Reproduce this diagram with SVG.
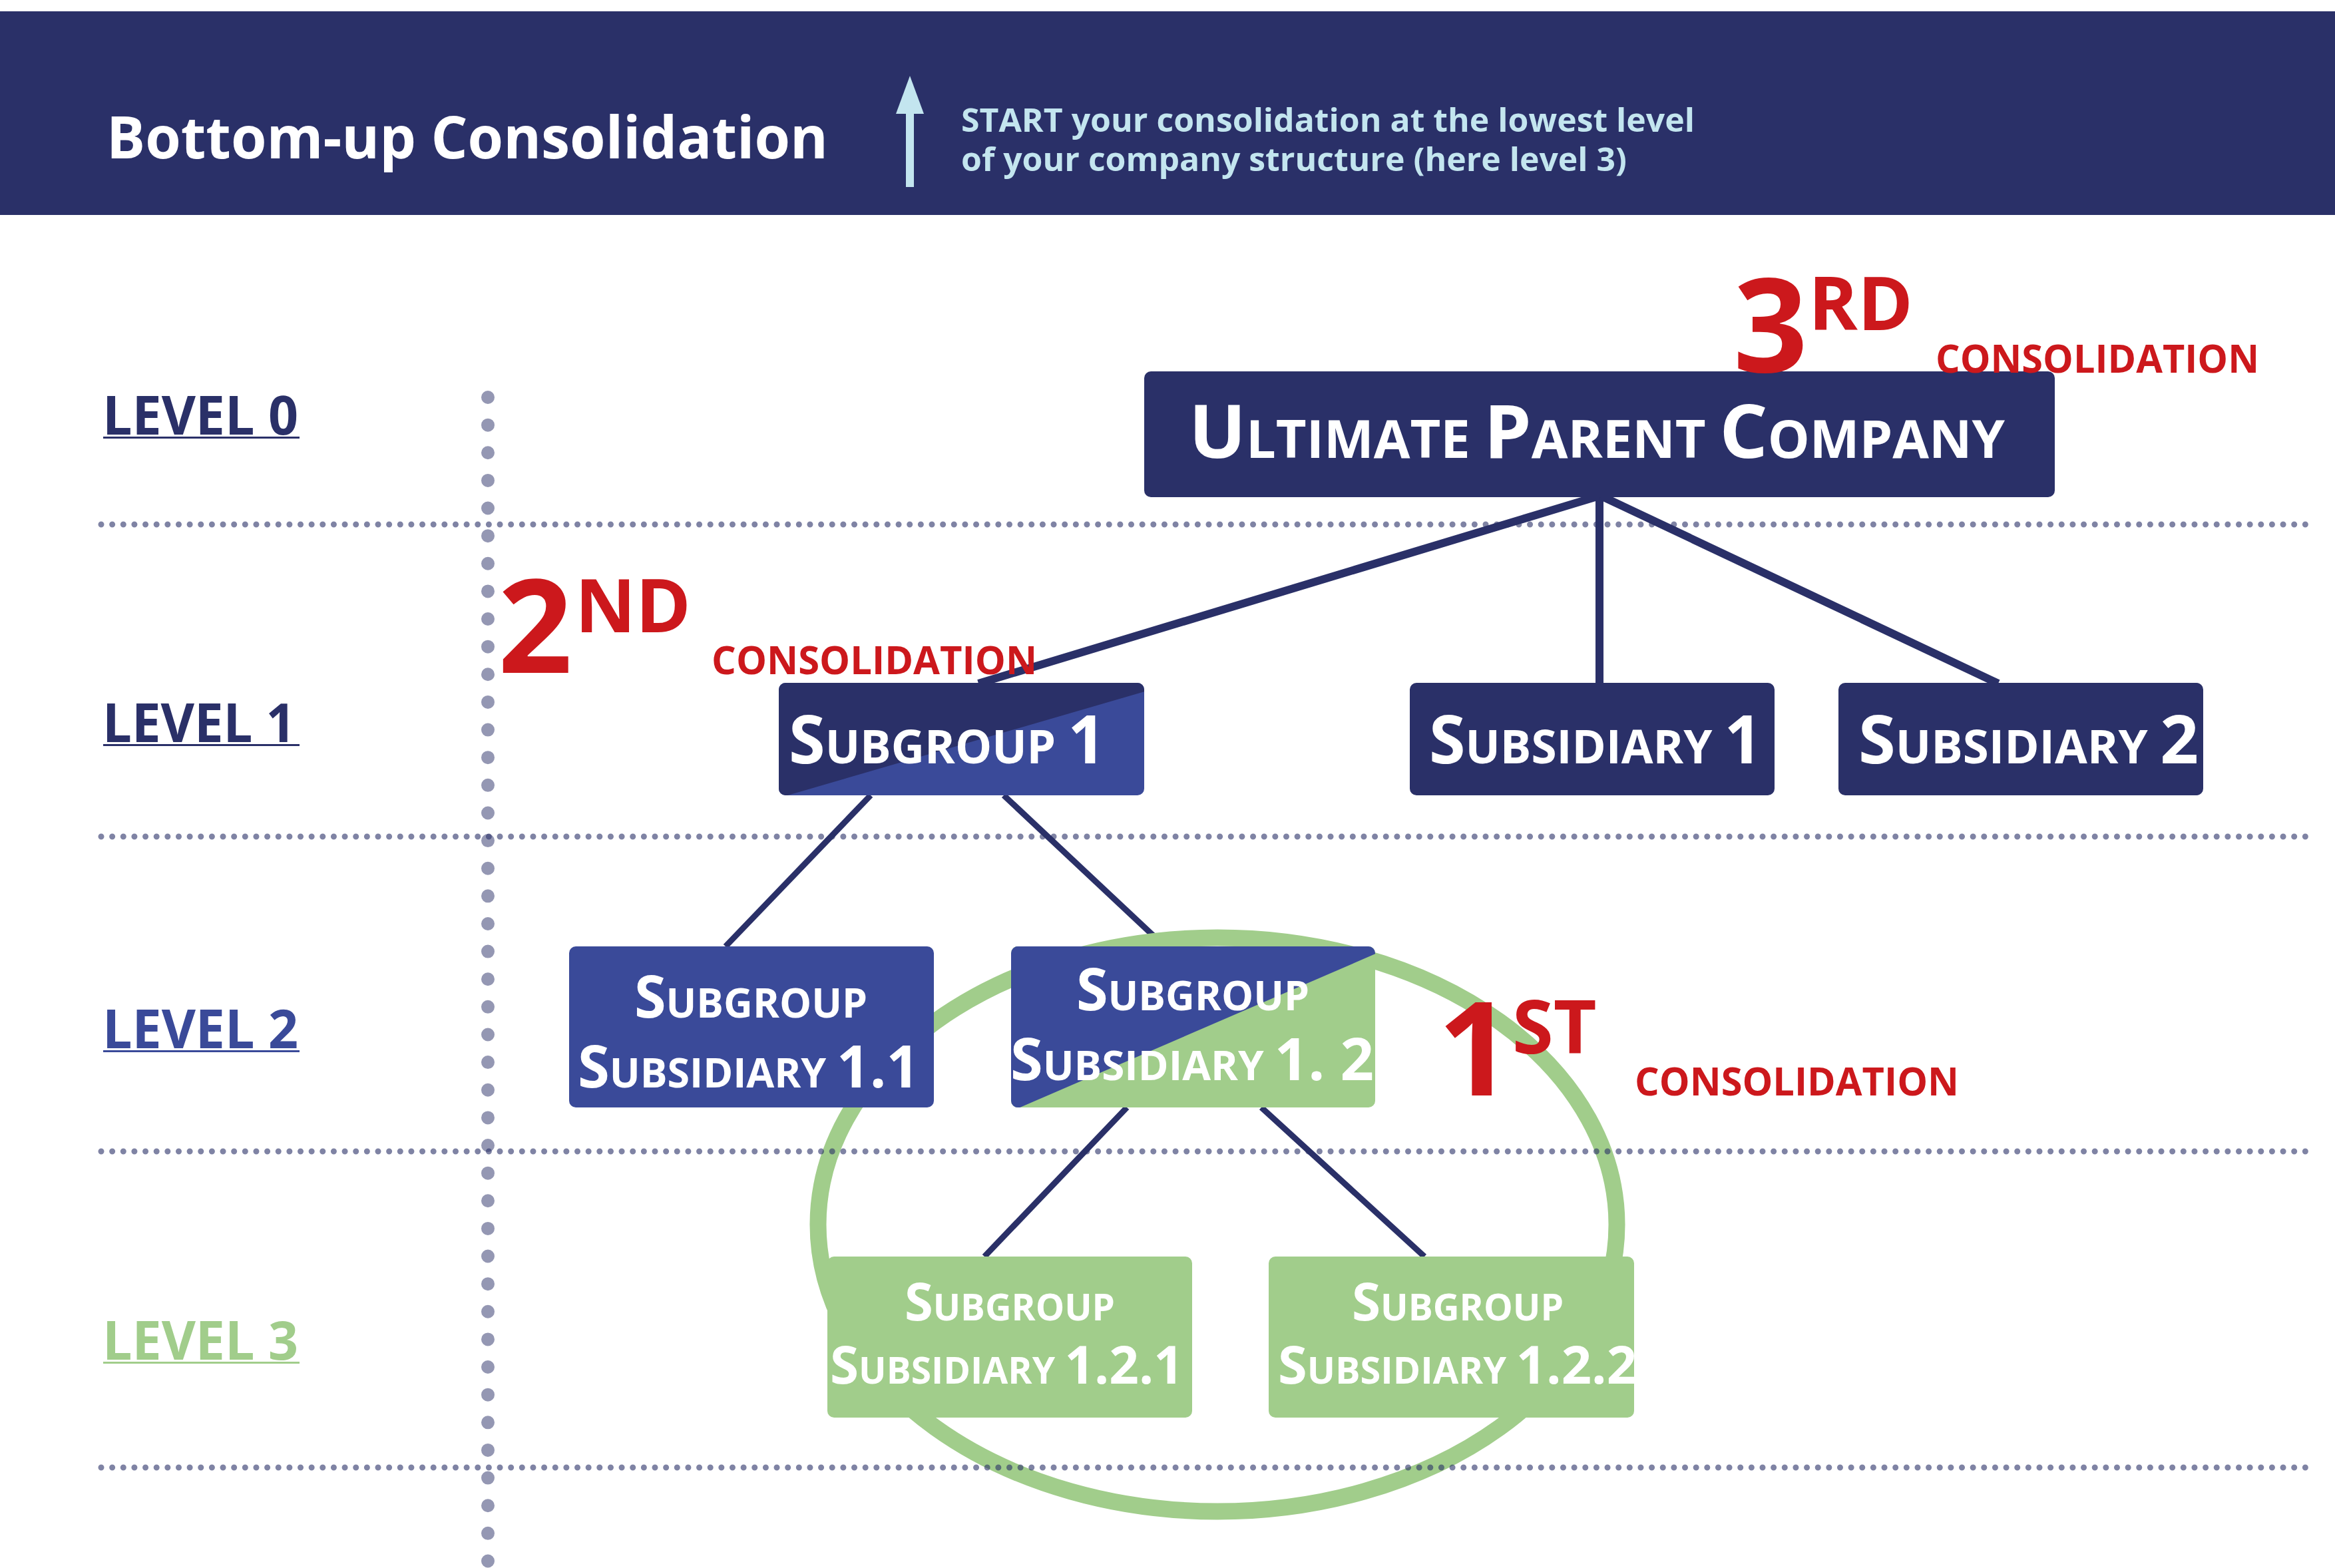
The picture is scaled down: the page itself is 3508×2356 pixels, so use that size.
<svg xmlns="http://www.w3.org/2000/svg" width="3508" height="2356" viewBox="0 0 3508 2356">
<style>
text{font-family:"Open Sans","Noto Sans","Liberation Sans",sans-serif}
.node{fill:#fff;font-weight:700}
.lvl{font-weight:700;font-size:80px}
.red{fill:#cc181c;font-weight:700}
.cons{fill:#cc181c;font-weight:700;font-size:59px}
.conn1{stroke:#2a3068;stroke-width:12;fill:none}
.conn2{stroke:#2a3068;stroke-width:9;fill:none}
.hdot{stroke:#2a3068;stroke-opacity:0.6;stroke-width:9;stroke-linecap:round;stroke-dasharray:0 16.64;fill:none}
.vdot{stroke:#2a3068;stroke-opacity:0.5;stroke-width:20;stroke-linecap:round;stroke-dasharray:0 41.63;fill:none}
</style>
<defs>
<clipPath id="cpSg1"><rect x="1170" y="1026" width="549" height="169" rx="10"/></clipPath>
<clipPath id="cpSg12"><rect x="1519" y="1422" width="547" height="242" rx="10"/></clipPath>
</defs>
<rect width="3508" height="2356" fill="#fff"/>
<g id="header">
<rect x="0" y="17" width="3508" height="306" fill="#2a3068"/>
<text x="160" y="238" font-size="88" font-weight="700" fill="#fff" textLength="1084" lengthAdjust="spacingAndGlyphs">Bottom-up Consolidation</text>
<polygon points="1367,114 1388,171 1346,171" fill="#c3e5ef"/>
<rect x="1361" y="170" width="12" height="111" fill="#c3e5ef"/>
<text x="1444" y="198" font-size="48" font-weight="700" fill="#c3e5ef" textLength="1102" lengthAdjust="spacingAndGlyphs">START your consolidation at the lowest level</text>
<text x="1444" y="257" font-size="48" font-weight="700" fill="#c3e5ef" textLength="1000" lengthAdjust="spacingAndGlyphs">of your company structure (here level 3)</text>
</g>
<g id="levels">
<text class="lvl" x="154" y="653" fill="#2a3068" textLength="294" lengthAdjust="spacingAndGlyphs">LEVEL 0</text>
<rect x="155" y="656" width="295" height="3" fill="#2a3068"/>
<text class="lvl" x="154" y="1115" fill="#2a3068" textLength="290" lengthAdjust="spacingAndGlyphs">LEVEL 1</text>
<rect x="155" y="1118" width="295" height="3" fill="#2a3068"/>
<text class="lvl" x="154" y="1575" fill="#3a4a99" textLength="294" lengthAdjust="spacingAndGlyphs">LEVEL 2</text>
<rect x="155" y="1578" width="295" height="3" fill="#3a4a99"/>
<text class="lvl" x="154" y="2043" fill="#a1cd8b" textLength="294" lengthAdjust="spacingAndGlyphs">LEVEL 3</text>
<rect x="155" y="2046" width="295" height="3" fill="#a1cd8b"/>
</g>
<g id="connectors">
<path class="conn1" d="M2403 745 L1470 1027"/>
<path class="conn1" d="M2403 745 V1027"/>
<path class="conn1" d="M2405 745 L3002 1027"/>
<path class="conn2" d="M1308 1195 L1090 1422"/>
<path class="conn2" d="M1508 1195 L1750 1422"/>
<path class="conn2" d="M1693 1664 L1479 1888"/>
<path class="conn2" d="M1895 1664 L2140 1888"/>
</g>
<g id="consolidation-circle">
<ellipse cx="1829" cy="1840" rx="600" ry="431" fill="none" stroke="#a1cd8b" stroke-width="25"/>
</g>
<g id="node-parent">
<rect x="1719" y="558" width="1368" height="189" rx="10" fill="#2a3068"/>
<text class="node" x="1786" y="688" font-size="112" textLength="1226" lengthAdjust="spacingAndGlyphs"><tspan>U</tspan><tspan font-size="78">LTIMATE </tspan><tspan>P</tspan><tspan font-size="78">ARENT </tspan><tspan>C</tspan><tspan font-size="78">OMPANY</tspan></text>
</g>
<g id="node-subgroup1">
<g clip-path="url(#cpSg1)">
<rect x="1170" y="1026" width="549" height="169" fill="#3a4a99"/>
<polygon points="1160,1016 1730,1016 1730,1036 1180,1196 1160,1205" fill="#2a3068"/>
</g>
<text class="node" x="1185" y="1147" font-size="100" textLength="476" lengthAdjust="spacingAndGlyphs"><tspan>S</tspan><tspan font-size="70">UBGROUP </tspan><tspan>1</tspan></text>
</g>
<g id="node-subsidiary1">
<rect x="2118" y="1026" width="548" height="169" rx="10" fill="#2a3068"/>
<text class="node" x="2147" y="1147" font-size="100" textLength="500" lengthAdjust="spacingAndGlyphs"><tspan>S</tspan><tspan font-size="70">UBSIDIARY </tspan><tspan>1</tspan></text>
</g>
<g id="node-subsidiary2">
<rect x="2762" y="1026" width="548" height="169" rx="10" fill="#2a3068"/>
<text class="node" x="2792" y="1147" font-size="100" textLength="511" lengthAdjust="spacingAndGlyphs"><tspan>S</tspan><tspan font-size="70">UBSIDIARY </tspan><tspan>2</tspan></text>
</g>
<g id="node-sub11">
<rect x="855" y="1422" width="548" height="242" rx="10" fill="#3a4a99"/>
<text class="node" x="953" y="1529" font-size="87" textLength="350" lengthAdjust="spacingAndGlyphs"><tspan>S</tspan><tspan font-size="61">UBGROUP</tspan></text>
<text class="node" x="868" y="1634" font-size="87" textLength="513" lengthAdjust="spacingAndGlyphs"><tspan>S</tspan><tspan font-size="61">UBSIDIARY </tspan><tspan>1.1</tspan></text>
</g>
<g id="node-sub12">
<g clip-path="url(#cpSg12)">
<rect x="1519" y="1422" width="547" height="242" fill="#a1cd8b"/>
<polygon points="1509,1412 2076,1412 2076,1429 1530,1665 1509,1674" fill="#3a4a99"/>
</g>
<text class="node" x="1617" y="1518" font-size="87" textLength="350" lengthAdjust="spacingAndGlyphs"><tspan>S</tspan><tspan font-size="61">UBGROUP</tspan></text>
<text class="node" x="1518" y="1623" font-size="87" textLength="546" lengthAdjust="spacingAndGlyphs"><tspan>S</tspan><tspan font-size="61">UBSIDIARY </tspan><tspan>1. 2</tspan></text>
</g>
<g id="node-sub121">
<rect x="1243" y="1888" width="548" height="242" rx="10" fill="#a1cd8b"/>
<text class="node" x="1359" y="1984" font-size="78" textLength="316" lengthAdjust="spacingAndGlyphs"><tspan>S</tspan><tspan font-size="55">UBGROUP</tspan></text>
<text class="node" x="1247" y="2079" font-size="78" textLength="531" lengthAdjust="spacingAndGlyphs"><tspan>S</tspan><tspan font-size="55">UBSIDIARY </tspan><tspan>1.2.1</tspan></text>
</g>
<g id="node-sub122">
<rect x="1906" y="1888" width="549" height="242" rx="10" fill="#a1cd8b"/>
<text class="node" x="2031" y="1984" font-size="78" textLength="318" lengthAdjust="spacingAndGlyphs"><tspan>S</tspan><tspan font-size="55">UBGROUP</tspan></text>
<text class="node" x="1920" y="2079" font-size="78" textLength="539" lengthAdjust="spacingAndGlyphs"><tspan>S</tspan><tspan font-size="55">UBSIDIARY </tspan><tspan>1.2.2</tspan></text>
</g>
<g id="label-3rd">
<text class="red" x="2604" y="559" font-size="196">3</text>
<text class="red" x="2717" y="496" font-size="112">RD</text>
<text class="cons" x="2908" y="560" textLength="486" lengthAdjust="spacingAndGlyphs">CONSOLIDATION</text>
</g>
<g id="label-2nd">
<text class="red" x="748" y="1011" font-size="196">2</text>
<text class="red" x="864" y="950" font-size="112">ND</text>
<text class="cons" x="1069" y="1013" textLength="489" lengthAdjust="spacingAndGlyphs">CONSOLIDATION</text>
</g>
<g id="label-1st">
<text class="red" x="2160" y="1646" font-size="196">1</text>
<text class="red" x="2272" y="1583" font-size="112">ST</text>
<text class="cons" x="2456" y="1646" textLength="487" lengthAdjust="spacingAndGlyphs">CONSOLIDATION</text>
</g>
<g id="gridlines">
<path class="hdot" d="M152 788 H3466"/>
<path class="hdot" d="M152 1257 H3466"/>
<path class="hdot" d="M152 1730 H3466"/>
<path class="hdot" d="M152 2205 H3466"/>
<path class="vdot" d="M733 597 V2356"/>
</g>
</svg>
